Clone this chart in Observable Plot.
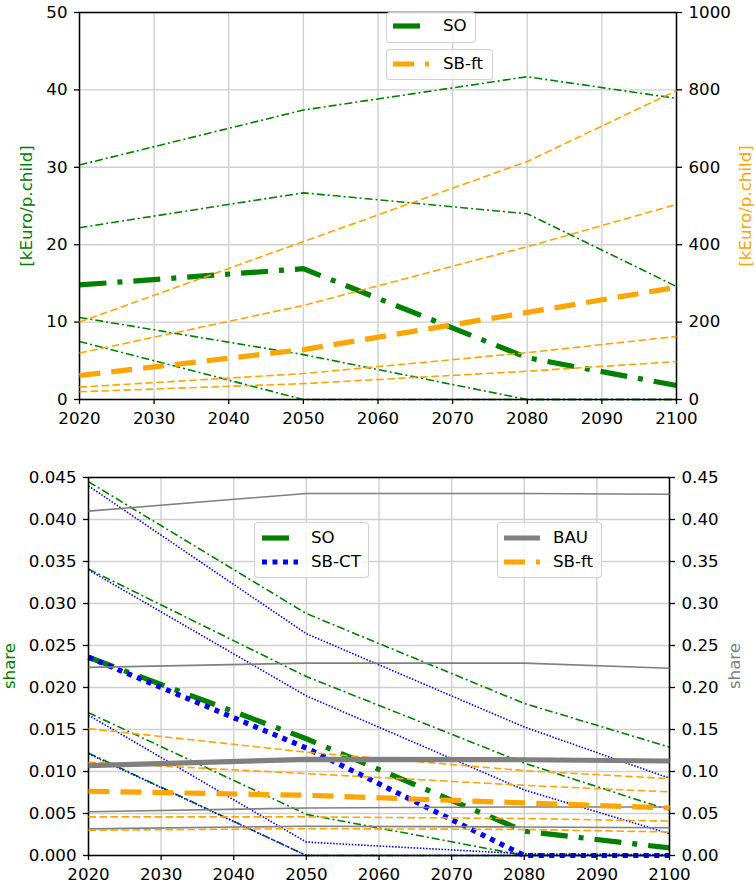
<!DOCTYPE html>
<html><head><meta charset="utf-8">
<script src="https://cdn.jsdelivr.net/npm/d3@7"></script>
<script src="https://cdn.jsdelivr.net/npm/@observablehq/plot@0.6"></script>
<style>
body{margin:0;background:#fff;font-family:"DejaVu Sans",sans-serif;}
#root{position:relative;width:756px;height:888px;overflow:hidden;background:#fff;}
#root svg.plotsvg{position:absolute;left:0;}
.lbl{position:absolute;font-size:16.67px;white-space:nowrap;transform:translate(-50%,-50%) rotate(-90deg);line-height:1;}
.leg{position:absolute;background:rgba(255,255,255,0.8);border:1.3px solid rgba(204,204,204,0.9);border-radius:4px;box-sizing:border-box;}
.legtxt{position:absolute;font-size:16.67px;white-space:nowrap;transform:translateY(-50%);line-height:1;}
.legline{position:absolute;overflow:visible;}
</style></head><body><div id="root"></div>
<script>
// ---------- data ----------
const years = [2020, 2050, 2080, 2100];
const xTicks = [2020, 2030, 2040, 2050, 2060, 2070, 2080, 2090, 2100];

// top panel, left axis [kEuro/p.child] (green, SO)
const topSO = [14.8, 16.9, 5.4, 1.8];
const topSOBand1 = [30.3, 37.4, 41.7, 38.9];
const topSOBand2 = [22.2, 26.7, 24.0, 14.6];
const topSOBand3 = [10.6, 5.8, 0, 0];
const topSOBand4 = [7.5, 0, 0, 0];
const topLeftTicks = [0, 10, 20, 30, 40, 50];

// top panel, right axis [kEuro/p.child] (orange, SB-ft)
const topSBft = [62, 129, 225, 290];
const topSBftBand1 = [200, 408, 615, 798];
const topSBftBand2 = [120, 243, 395, 504];
const topSBftBand3 = [32, 67, 121, 163];
const topSBftBand4 = [20, 41, 73, 98];
const topRightTicks = [0, 200, 400, 600, 800, 1000];

// bottom panel, left axis share (SO green, SB-CT blue)
const botSO = [0.0236, 0.0139, 0.0029, 0.0009];
const botSOBand1 = [0.0445, 0.0288, 0.0181, 0.0129];
const botSOBand2 = [0.0341, 0.0213, 0.0110, 0.0054];
const botSOBand3 = [0.0170, 0.0049, 0, 0];
const botSOBand4 = [0.0122, 0, 0, 0];
const botCT = [0.0236, 0.0128, 0, 0];
const botCTBand1 = [0.0440, 0.0264, 0.0153, 0.0092];
const botCTBand2 = [0.0340, 0.0190, 0.0078, 0.0026];
const botCTBand3 = [0.0167, 0.0016, 0.0002, 0.0001];
const botCTBand4 = [0.0121, 0, 0, 0];
const botLeftTicks = [0, 0.005, 0.01, 0.015, 0.02, 0.025, 0.03, 0.035, 0.04, 0.045];

// bottom panel, right axis share (BAU gray, SB-ft orange)
const botBAU = [0.107, 0.1145, 0.114, 0.1125];
const botBAUBand1 = [0.410, 0.431, 0.431, 0.430];
const botBAUBand2 = [0.224, 0.229, 0.229, 0.223];
const botBAUBand3 = [0.052, 0.0566, 0.0578, 0.0578];
const botBAUBand4 = [0.0317, 0.0349, 0.034, 0.033];
const botSBft = [0.0765, 0.0717, 0.0626, 0.0566];
const botSBftBand1 = [0.151, 0.123, 0.101, 0.0915];
const botSBftBand2 = [0.111, 0.0975, 0.0836, 0.0757];
const botSBftBand3 = [0.046, 0.046, 0.044, 0.041];
const botSBftBand4 = [0.030, 0.032, 0.031, 0.028];
const botRightTicks = [0, 0.05, 0.1, 0.15, 0.2, 0.25, 0.3, 0.35, 0.4, 0.45];

// ---------- styles ----------
const GREEN = "green", ORANGE = "orange", BLUE = "blue", GRAY = "gray";
const DASHDOT_THIN = "8,3,2,3", DASHDOT_THICK = "27,11,5,11";
const DASH_THIN = "7.5,3.5", DASH_THICK = "21,11";
const DOT_THIN = "1.5,1.6", DOT_THICK = "5,5.5";
const THIN = 1.6, THICK = 5.2;
const GRIDC = "#d0d0d0";
const FS = "16.67px";

function toRows(values, name) {
  return values.map((v, i) => ({year: years[i], v, name}));
}
function lineMark(series, stroke, width, dash) {
  const rows = series.flatMap(([name, vals]) => toRows(vals, name));
  return Plot.line(rows, {x: "year", y: "v", z: "name", stroke, strokeWidth: width,
    strokeDasharray: dash, strokeLinejoin: "round", strokeLinecap: "butt"});
}
const baseStyle = {fontFamily: "DejaVu Sans", fontSize: FS, color: "black", background: "transparent", overflow: "visible"};

function panel({top, height, mt, mb, ml, mr, leftDomain, leftTicks, leftFmt, rightDomain, rightTicks, rightFmt, leftMarks, rightMarks}) {
  const base = Plot.plot({
    width: 756, height, marginTop: mt, marginBottom: mb, marginLeft: ml, marginRight: mr,
    style: baseStyle,
    x: {domain: [2020, 2100]},
    y: {domain: leftDomain},
    marks: [
      Plot.gridX(xTicks, {stroke: GRIDC, strokeOpacity: 1, strokeWidth: 1.4}),
      Plot.gridY(leftTicks, {stroke: GRIDC, strokeOpacity: 1, strokeWidth: 1.4}),
      ...leftMarks,
      Plot.frame({stroke: "black", strokeWidth: 1.5}),
      Plot.axisX(xTicks, {tickFormat: "d", tickSize: 5, tickPadding: 8, label: null, strokeWidth: 1.3}),
      Plot.axisY(leftTicks, {anchor: "left", tickFormat: leftFmt, tickSize: 5, tickPadding: 7, label: null, strokeWidth: 1.3})
    ]
  });
  const over = Plot.plot({
    width: 756, height, marginTop: mt, marginBottom: mb, marginLeft: ml, marginRight: mr,
    style: baseStyle,
    x: {domain: [2020, 2100], axis: null},
    y: {domain: rightDomain},
    marks: [
      ...rightMarks,
      Plot.axisY(rightTicks, {anchor: "right", tickFormat: rightFmt, tickSize: 5, tickPadding: 7, label: null, strokeWidth: 1.3})
    ]
  });
  for (const s of [base, over]) {
    s.classList.add("plotsvg");
    s.style.position = "absolute";
    s.style.top = top + "px";
    s.style.left = "0px";
    root.appendChild(s);
  }
}

const root = document.getElementById("root");

// top panel
panel({
  top: 0, height: 430, mt: 12, mb: 31, ml: 79, mr: 80,
  leftDomain: [0, 50], leftTicks: topLeftTicks, leftFmt: d3.format("d"),
  rightDomain: [0, 1000], rightTicks: topRightTicks, rightFmt: d3.format("d"),
  leftMarks: [
    lineMark([["b1", topSOBand1], ["b2", topSOBand2], ["b3", topSOBand3], ["b4", topSOBand4]], GREEN, THIN, DASHDOT_THIN),
    lineMark([["SO", topSO]], GREEN, THICK, DASHDOT_THICK)
  ],
  rightMarks: [
    lineMark([["b1", topSBftBand1], ["b2", topSBftBand2], ["b3", topSBftBand3], ["b4", topSBftBand4]], ORANGE, THIN, DASH_THIN),
    lineMark([["SB-ft", topSBft]], ORANGE, THICK, DASH_THICK)
  ]
});

// bottom panel
panel({
  top: 440, height: 448, mt: 37, mb: 33, ml: 88, mr: 87,
  leftDomain: [0, 0.045], leftTicks: botLeftTicks, leftFmt: d3.format(".3f"),
  rightDomain: [0, 0.45], rightTicks: botRightTicks, rightFmt: d3.format(".2f"),
  leftMarks: [
    lineMark([["b1", botSOBand1], ["b2", botSOBand2], ["b3", botSOBand3], ["b4", botSOBand4]], GREEN, THIN, DASHDOT_THIN),
    lineMark([["b1", botCTBand1], ["b2", botCTBand2], ["b3", botCTBand3], ["b4", botCTBand4]], BLUE, THIN, DOT_THIN),
    lineMark([["SO", botSO]], GREEN, THICK, DASHDOT_THICK),
    lineMark([["SB-CT", botCT]], BLUE, THICK, DOT_THICK)
  ],
  rightMarks: [
    lineMark([["b1", botBAUBand1], ["b2", botBAUBand2], ["b3", botBAUBand3], ["b4", botBAUBand4]], GRAY, THIN, null),
    lineMark([["b1", botSBftBand1], ["b2", botSBftBand2], ["b3", botSBftBand3], ["b4", botSBftBand4]], ORANGE, THIN, DASH_THIN),
    lineMark([["BAU", botBAU]], GRAY, THICK, null),
    lineMark([["SB-ft", botSBft]], ORANGE, THICK, DASH_THICK)
  ]
});

// axis labels
function label(text, cx, cy, color) {
  const d = document.createElement("div");
  d.className = "lbl";
  d.textContent = text;
  d.style.left = cx + "px";
  d.style.top = cy + "px";
  d.style.color = color;
  root.appendChild(d);
}
label("[kEuro/p.child]", 27, 206, GREEN);
label("[kEuro/p.child]", 746, 206, ORANGE);
label("share", 10, 666, GREEN);
label("share", 735, 666, GRAY);

// legends
function legendBox(x, y, w, h, entries) {
  const b = document.createElement("div");
  b.className = "leg";
  Object.assign(b.style, {left: x + "px", top: y + "px", width: w + "px", height: h + "px"});
  root.appendChild(b);
  for (const e of entries) {
    const ns = "http://www.w3.org/2000/svg";
    const svg = document.createElementNS(ns, "svg");
    svg.setAttribute("class", "legline");
    svg.setAttribute("width", 40);
    svg.setAttribute("height", 10);
    Object.assign(svg.style, {left: e.lx + "px", top: (e.y - 5) + "px"});
    const ln = document.createElementNS(ns, "line");
    ln.setAttribute("x1", 0); ln.setAttribute("x2", 36);
    ln.setAttribute("y1", 5); ln.setAttribute("y2", 5);
    ln.setAttribute("stroke", e.color);
    ln.setAttribute("stroke-width", THICK);
    if (e.dash) ln.setAttribute("stroke-dasharray", e.dash);
    svg.appendChild(ln);
    root.appendChild(svg);
    const t = document.createElement("div");
    t.className = "legtxt";
    t.textContent = e.text;
    Object.assign(t.style, {left: e.tx + "px", top: e.y + "px"});
    root.appendChild(t);
  }
}
legendBox(386, 12, 90, 31, [{text: "SO", color: GREEN, dash: DASHDOT_THICK, lx: 393, tx: 443, y: 26}]);
legendBox(386, 49, 107, 31, [{text: "SB-ft", color: ORANGE, dash: DASH_THICK, lx: 393, tx: 443, y: 64}]);
legendBox(254, 522, 115, 56, [
  {text: "SO", color: GREEN, dash: DASHDOT_THICK, lx: 262, tx: 311, y: 538},
  {text: "SB-CT", color: BLUE, dash: DOT_THICK, lx: 262, tx: 311, y: 562}
]);
legendBox(497, 522, 105, 56, [
  {text: "BAU", color: GRAY, dash: null, lx: 504, tx: 553, y: 538},
  {text: "SB-ft", color: ORANGE, dash: DASH_THICK, lx: 504, tx: 553, y: 562}
]);
</script>
</body></html>
